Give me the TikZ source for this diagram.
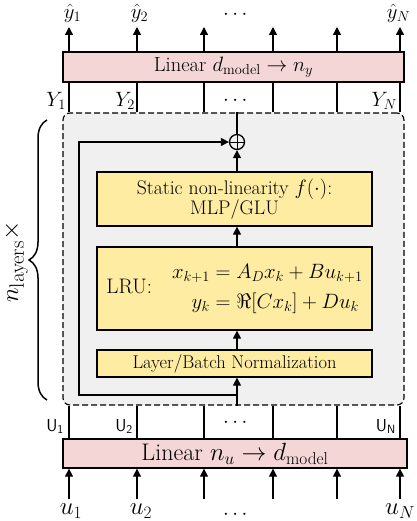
\documentclass[tikz,border=0pt]{standalone}
\usepackage{amsmath}
\usetikzlibrary{arrows.meta,decorations.pathreplacing}
\definecolor{pinkfill}{RGB}{244,214,214}
\definecolor{yellowfill}{RGB}{255,236,163}
\definecolor{grayfill}{RGB}{240,240,240}
\begin{document}
\begin{tikzpicture}[x=1pt,y=-1pt,
  font=\fontsize{21}{25}\selectfont,
  lw/.style={line width=1.3pt},
  linbox/.style={draw, line width=1.3pt, fill=pinkfill, inner sep=0pt},
  blkbox/.style={draw, line width=1.3pt, fill=yellowfill, inner sep=0pt, minimum width=275pt, align=center},
  arr/.style={-{Triangle[length=8pt,width=8pt]}, line width=1.3pt},
  lbl/.style={inner sep=0pt},
  biglbl/.style={inner sep=0pt, font=\fontsize{22.5}{26}\selectfont}
]
\useasboundingbox (0,0) rectangle (416,521);
% dashed layer box
\node[draw, dashed, dash pattern=on 6pt off 3pt, line width=1.1pt, rounded corners=7pt, fill=grayfill,
      minimum width=341pt, minimum height=292pt, inner sep=0pt] (dbox) at (233.5,259) {};
% linear boxes
\node[linbox, minimum width=341pt, minimum height=30pt, font=\fontsize{20.5}{24}\selectfont] (toplin) at (233.5,67) {Linear $d_{\mathrm{model}}\to n_y$};
\node[linbox, minimum width=344pt, minimum height=29pt, font=\fontsize{24}{28}\selectfont] (botlin) at (235,453.5) {Linear $n_u\to d_{\mathrm{model}}$};
% inner blocks
\node[blkbox, minimum height=54pt, font=\fontsize{19.7}{23}\selectfont] (stat) at (234.5,199) {Static non-linearity $f(\cdot)$:\\[-3pt] MLP/GLU};
\node[blkbox, minimum height=83pt] (lru) at (234.5,288.5) {LRU:\hspace{20pt}$\begin{aligned} x_{k+1} &= A_D x_k + B u_{k+1}\\[2pt] y_k &= \Re[C x_k] + D u_k\end{aligned}$};
\node[blkbox, minimum height=27pt, font=\fontsize{18.5}{22}\selectfont] (ln) at (234.5,363.5) {Layer/Batch Normalization};
\node[draw, circle, line width=1.3pt, minimum size=15pt, inner sep=0pt] (circ) at (237,142) {};
\draw[line width=0.5pt] (circ.north) -- (circ.south) (circ.west) -- (circ.east);
% columns
\foreach \i/\x in {1/69,2/137,3/204,4/273,5/337,6/400} {
  \coordinate (yt\i) at (\x,27);
  \coordinate (ub\i) at (\x,499);
  \draw[arr] (yt\i |- toplin.north) -- (yt\i);
  \draw[lw] (yt\i |- dbox.north) -- (yt\i |- toplin.south);
  \draw[lw] (yt\i |- botlin.north) -- (yt\i |- dbox.south);
  \draw[arr] (ub\i) -- (ub\i |- botlin.south);
}
% internal flow
\coordinate (sk) at (237,395);
\coordinate (skc) at (79,395);
\draw[arr] (sk |- dbox.south) -- (sk |- ln.south);
\draw[arr] (sk |- ln.north) -- (sk |- lru.south);
\draw[arr] (sk |- lru.north) -- (sk |- stat.south);
\draw[arr] (sk |- stat.north) -- (circ.south);
\draw[lw] (circ.north) -- (circ.north |- dbox.north);
\draw[arr] (sk) -- (skc) |- (circ.west);
% labels top
\node[biglbl] (yh1) at (72.5,13) {$\hat y_1$};
\node[biglbl] (yh2) at (139.5,13) {$\hat y_2$};
\node[biglbl] (yhd) at (237,15) {$\cdots$};
\node[biglbl] (yhN) at (398.5,13) {$\hat y_N$};
\node[lbl, anchor=south east, font=\fontsize{22}{26}\selectfont] (Y1) at (66,110) {$Y_1$};
\node[lbl, anchor=south east, font=\fontsize{22}{26}\selectfont] (Y2) at (135,110) {$Y_2$};
\node[lbl] (Yd) at (237,101) {$\cdots$};
\node[lbl, anchor=south east, font=\fontsize{22}{26}\selectfont] (YN) at (397,110) {$Y_N$};
% labels bottom
\node[lbl, anchor=south east, font=\fontsize{18.5}{22}\selectfont] (U1) at (64,434) {$\mathsf{U}_\mathsf{1}$};
\node[lbl, anchor=south east, font=\fontsize{18.5}{22}\selectfont] (U2) at (133,434) {$\mathsf{U}_\mathsf{2}$};
\node[lbl] (Ud) at (237,423) {$\cdots$};
\node[lbl, anchor=south east, font=\fontsize{18.5}{22}\selectfont] (UN) at (396,434) {$\mathsf{U}_\mathsf{N}$};
\node[biglbl, font=\fontsize{25}{29}\selectfont] (u1) at (71,511) {$u_1$};
\node[biglbl, font=\fontsize{25}{29}\selectfont] (u2) at (141,511) {$u_2$};
\node[biglbl] (ud) at (237,515) {$\cdots$};
\node[biglbl, font=\fontsize{25}{29}\selectfont] (uN) at (400,511) {$u_N$};
% brace
\coordinate (bt) at (47,120);
\coordinate (bb) at (47,400);
\draw[line width=1.5pt, decorate, decoration={brace, amplitude=18pt}] (bb) -- (bt);
\node[lbl, rotate=90, anchor=base, font=\fontsize{28}{31}\selectfont] (nl) at (18,262) {$n_{\mathrm{layers}}\times$};
\end{tikzpicture}
\end{document}
